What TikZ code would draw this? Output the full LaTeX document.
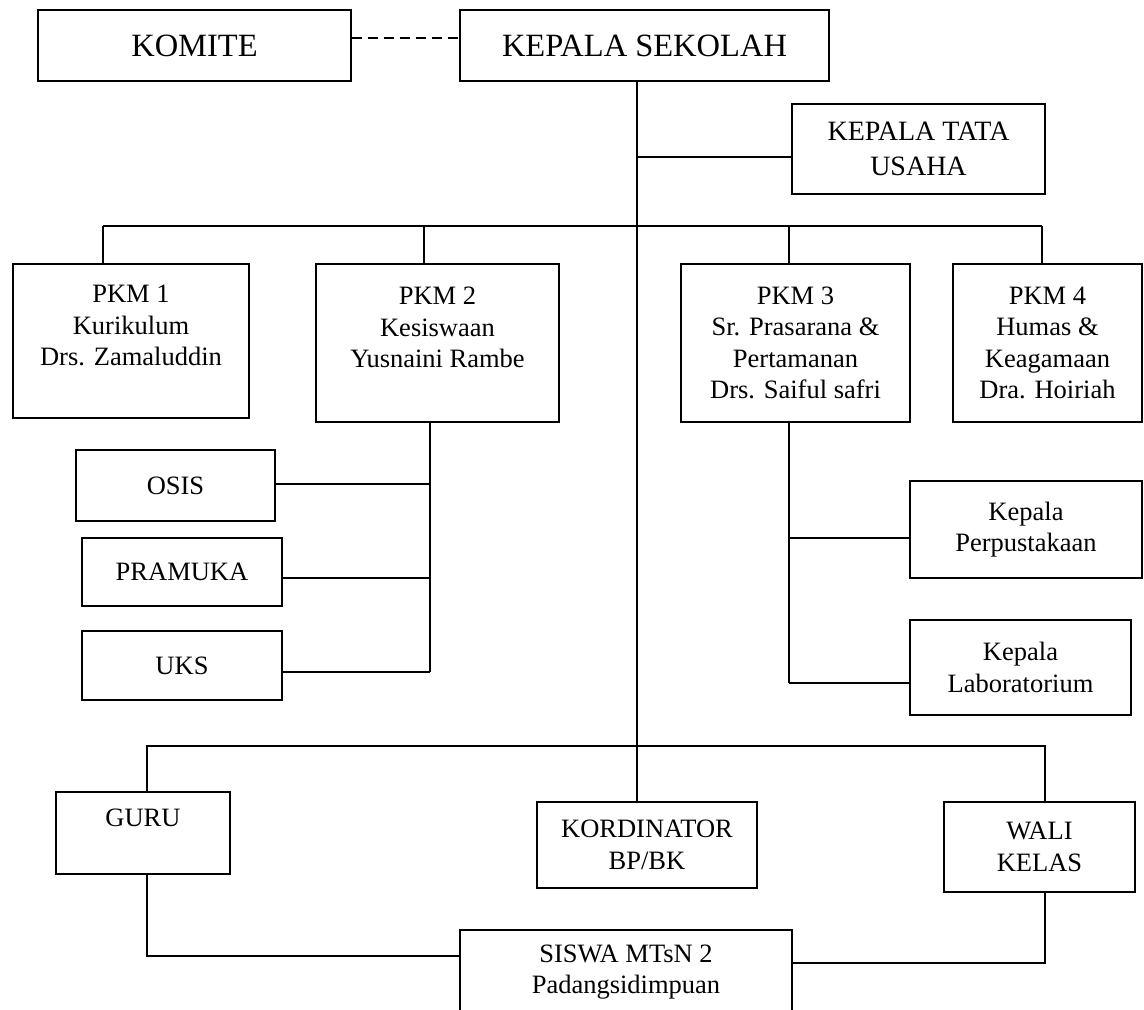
\documentclass[tikz,border=0pt]{standalone}
\usepackage{fontspec}
\setmainfont{Liberation Serif}
\tikzset{
  orgbox/.style={draw, line width=1.5pt, align=center, inner sep=2pt, font=\fontsize{26.5}{31.5}\selectfont},
  bigbox/.style={orgbox, font=\fontsize{32.5}{38}\selectfont},
  link/.style={line width=1.5pt},
}
\begin{document}
\begin{tikzpicture}[x=1pt, y=-1pt]
  \clip (0,0) rectangle (1144,1010);
  % top level
  \node[bigbox, minimum width=313pt, minimum height=71pt] (komite) at (194.5,45.5) {KOMITE};
  \node[bigbox, minimum width=369pt, minimum height=71pt] (kepsek) at (644.5,45.5) {KEPALA SEKOLAH};
  \node[orgbox, minimum width=253pt, minimum height=90pt, font=\fontsize{28}{35}\selectfont] (ktu) at (918.5,149) {KEPALA TATA\\USAHA};
  % wakil kepala
  \node[orgbox, minimum width=236pt, minimum height=154pt] (pkm1) at (131,341) {PKM 1\\Kurikulum\\Drs. Zamaluddin\\~};
  \node[orgbox, minimum width=243pt, minimum height=158pt] (pkm2) at (437.5,343) {PKM 2\\Kesiswaan\\Yusnaini Rambe\\~};
  \node[orgbox, minimum width=229pt, minimum height=158pt] (pkm3) at (795.5,343) {PKM 3\\Sr. Prasarana \&\\Pertamanan\\Drs. Saiful safri};
  \node[orgbox, minimum width=189pt, minimum height=158pt] (pkm4) at (1047.5,343) {PKM 4\\Humas \&\\Keagamaan\\Dra. Hoiriah};
  % under pkm 2 and pkm 3
  \node[orgbox, minimum width=199pt, minimum height=71pt] (osis) at (175.5,485.5) {OSIS};
  \node[orgbox, minimum width=200pt, minimum height=68pt] (pramuka) at (182,572) {PRAMUKA};
  \node[orgbox, minimum width=200pt, minimum height=69pt] (uks) at (182,665.5) {UKS};
  \node[orgbox, minimum width=232pt, minimum height=97pt] (perpus) at (1026,529.5) {Kepala\\Perpustakaan};
  \node[orgbox, minimum width=221pt, minimum height=95pt] (lab) at (1020.5,667.5) {Kepala\\Laboratorium};
  % bottom
  \node[orgbox, minimum width=174pt, minimum height=82pt] (guru) at (143,833) {GURU\\~};
  \node[orgbox, minimum width=220pt, minimum height=86pt] (kord) at (647,845) {KORDINATOR\\BP/BK};
  \node[orgbox, minimum width=191pt, minimum height=90pt] (wali) at (1039.5,847) {WALI\\KELAS};
  \node[orgbox, minimum width=332pt, minimum height=84pt] (siswa) at (626,972) {SISWA MTsN 2\\Padangsidimpuan};

  \draw[link, dashed, dash pattern=on 10pt off 6pt] ([yshift=7.5pt]komite.east) -- ([yshift=7.5pt]kepsek.west);
  \coordinate (trunk) at ([xshift=-7.5pt]kepsek.south);
  \draw[link] (trunk) -- (trunk |- kord.north);
  \draw[link] ([yshift=-8pt]ktu.west) -- ([yshift=-8pt]ktu.west -| trunk);

  \coordinate (bus) at (637,226);
  \draw[link] ([xshift=-28pt]pkm1.north |- bus) -- ([xshift=-5.5pt]pkm4.north |- bus);
  \foreach \n/\dx in {pkm1/-28, pkm2/-13.5, pkm3/-6.5, pkm4/-5.5}
    \draw[link] ([xshift=\dx pt]\n.north) -- ([xshift=\dx pt]\n.north |- bus);

  \coordinate (k2) at ([xshift=-7.5pt]pkm2.south);
  \draw[link] (k2) -- ([yshift=-6.5pt]uks.east -| k2);
  \foreach \n/\dy in {osis/1.5, pramuka/-6, uks/-6.5}
    \draw[link] ([yshift=\dy pt]\n.east) -- ([yshift=\dy pt]\n.east -| k2);

  \coordinate (k3) at ([xshift=-6.5pt]pkm3.south);
  \draw[link] (k3) -- ([yshift=-15.5pt]lab.west -| k3);
  \foreach \n/\dy in {perpus/-8.5, lab/-15.5}
    \draw[link] ([yshift=\dy pt]\n.west) -- ([yshift=\dy pt]\n.west -| k3);

  \coordinate (bus2) at (637,746);
  \draw[link] ([xshift=4pt]guru.north) |- (bus2) -| ([xshift=5.5pt]wali.north);
  \draw[link] ([xshift=4pt]guru.south) |- ([yshift=16pt]siswa.west);
  \draw[link] ([xshift=5.5pt]wali.south) |- ([yshift=9pt]siswa.east);
\end{tikzpicture}
\end{document}
